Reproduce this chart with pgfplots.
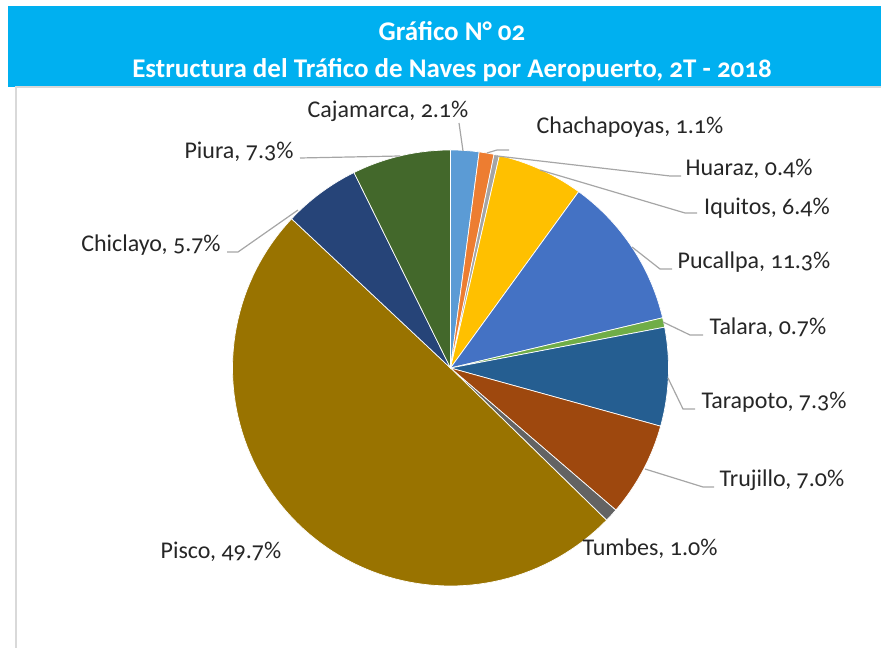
\documentclass[border=0pt]{standalone}
\usepackage{fontspec}
\setmainfont{Carlito}[Numbers=OldStyle]
\usepackage{pgfplots}
\usepackage{pgfplotstable}
\pgfplotsset{compat=1.18}

\definecolor{titlebar}{HTML}{00B0F0}
\definecolor{framegray}{HTML}{D9D9D9}
\definecolor{leader}{HTML}{A6A6A6}
\definecolor{c1}{HTML}{5B9BD5}
\definecolor{c2}{HTML}{ED7D31}
\definecolor{c3}{HTML}{A5A5A5}
\definecolor{c4}{HTML}{FFC000}
\definecolor{c5}{HTML}{4472C4}
\definecolor{c6}{HTML}{70AD47}
\definecolor{c7}{HTML}{255E91}
\definecolor{c8}{HTML}{9E480E}
\definecolor{c9}{HTML}{636363}
\definecolor{c10}{HTML}{997300}
\definecolor{c11}{HTML}{264478}
\definecolor{c12}{HTML}{43682B}

% share of aircraft traffic (%), clockwise from 12 o'clock; lx ly = label centre in px
\pgfplotstableread{
name        value color lx  ly
Cajamarca   2.1   c1    388 111
Chachapoyas 1.1   c2    630 127
Huaraz      0.4   c3    749 169
Iquitos     6.4   c4    767 208
Pucallpa    11.3  c5    754 262
Talara      0.7   c6    768 328
Tarapoto    7.3   c7    774 402
Trujillo    7.0   c8    782 480
Tumbes      1.0   c9    650 549
Pisco       49.7  c10   221 552
Chiclayo    5.7   c11   151 245
Piura       7.3   c12   239 152
}\shares

\begin{document}
\begin{tikzpicture}
\begin{scope}[x=1pt,y=1pt]
\path[use as bounding box] (0,0) rectangle (881,648);
% title band
\fill[titlebar] (8,642) rectangle (881,561);
\node[white, font=\fontsize{27}{31}\selectfont\bfseries] at (452,617) {Gráfico N° 02};
\node[white, font=\fontsize{27}{31}\selectfont\bfseries] at (452,578)
  {Estructura del Tráfico de Naves por Aeropuerto, 2T - 2018};
\draw[framegray, line width=1.5pt] (16,0) -- (16,561) -- (881,561);
\end{scope}

\begin{axis}[
  at={(450.5pt,280pt)}, anchor=center,
  width=436pt, height=436pt, scale only axis,
  xmin=-1, xmax=1, ymin=-1, ymax=1,
  hide axis, clip=false,
]
\def\cum{0}
\pgfplotsforeachungrouped \i in {0,...,11}{%
  \pgfplotstablegetelem{\i}{value}\of\shares \let\val\pgfplotsretval
  \pgfplotstablegetelem{\i}{color}\of\shares \let\col\pgfplotsretval
  \pgfmathsetmacro\angA{90-3.6*(\cum+\val)}%
  \pgfmathsetmacro\angB{90-3.6*\cum}%
  \pgfmathsetmacro\cum{\cum+\val}%
  \edef\slice{\noexpand\addplot[fill=\col, draw=white, line width=0.7pt,
    domain=\angA:\angB, samples=90] ({cos(x)},{sin(x)}) -- (axis cs:0,0) -- cycle;}%
  \slice
}
\end{axis}

% leader lines
\begin{scope}[x=1pt, y=1pt, shift={(0,648)}, yscale=-1, leader, line width=1.2pt]
\draw (463,151) -- (459,123);
\draw (487,153) -- (497,150) -- (509,150);
\draw (497,156) -- (670,176) -- (681,176);
\draw (540,170) -- (685,213) -- (697,213);
\draw (632,247) -- (660,269) -- (672,269);
\draw (663,322) -- (690,335) -- (703,335);
\draw (668,378) -- (683,409) -- (695,409);
\draw (645,469) -- (703,487) -- (714,487);
\draw (298,210) -- (238,252) -- (227,252);
\draw (400,156) -- (300,158);
\end{scope}

% data labels
\begin{scope}[x=1pt,y=1pt]
\pgfplotsforeachungrouped \i in {0,...,11}{%
  \pgfplotstablegetelem{\i}{name}\of\shares \let\nm\pgfplotsretval
  \pgfplotstablegetelem{\i}{value}\of\shares \let\val\pgfplotsretval
  \pgfplotstablegetelem{\i}{lx}\of\shares \let\lx\pgfplotsretval
  \pgfplotstablegetelem{\i}{ly}\of\shares \let\ly\pgfplotsretval
  \node[inner sep=0pt, text=black!85, font=\fontsize{24}{28}\selectfont]
    at (\lx,648-\ly) {\nm, \val\%};
}
\end{scope}
\end{tikzpicture}
\end{document}
